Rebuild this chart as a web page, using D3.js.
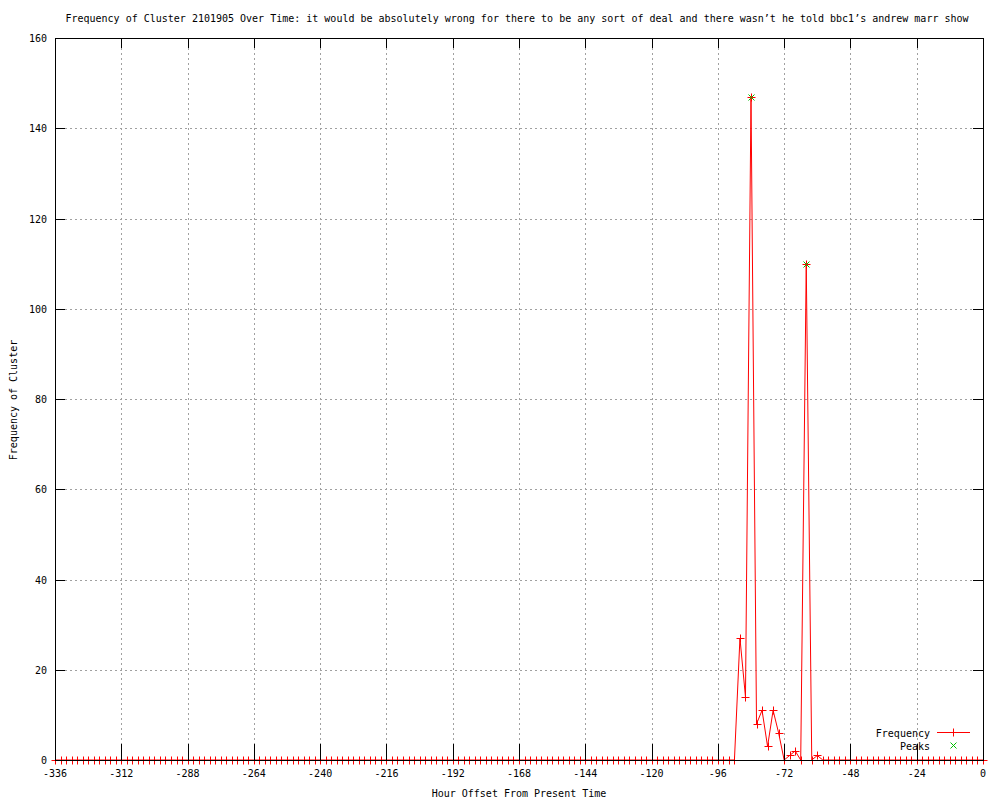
<!DOCTYPE html>
<html>
<head>
<meta charset="utf-8">
<script src="https://cdn.jsdelivr.net/npm/d3@7"></script>
<style>
  body { margin: 0; background: #fff; }
  text { font-family: "DejaVu Sans Mono", monospace; font-size: 10px; fill: #000; }
</style>
</head>
<body>
<div id="chart"></div>
<script>
// chart values
const titleText = "Frequency of Cluster 2101905 Over Time: it would be absolutely wrong for there to be any sort of deal and there wasn\u2019t he told bbc1\u2019s andrew marr show";
const xTicks = [-336, -312, -288, -264, -240, -216, -192, -168, -144, -120, -96, -72, -48, -24, 0];
const yTicks = [0, 20, 40, 60, 80, 100, 120, 140, 160];

// one sample every 2 hours, -336 .. 0
const hours = d3.range(-336, 1, 2);
const frequency = [
  0, 0, 0, 0, 0, 0, 0, 0, 0, 0, 0, 0, 0, 0, 0, 0, 0, 0, 0, 0,
  0, 0, 0, 0, 0, 0, 0, 0, 0, 0, 0, 0, 0, 0, 0, 0, 0, 0, 0, 0,
  0, 0, 0, 0, 0, 0, 0, 0, 0, 0, 0, 0, 0, 0, 0, 0, 0, 0, 0, 0,
  0, 0, 0, 0, 0, 0, 0, 0, 0, 0, 0, 0, 0, 0, 0, 0, 0, 0, 0, 0,
  0, 0, 0, 0, 0, 0, 0, 0, 0, 0, 0, 0, 0, 0, 0, 0, 0, 0, 0, 0,
  0, 0, 0, 0, 0, 0, 0, 0, 0, 0, 0, 0, 0, 0, 0, 0, 0, 0, 0, 0,
  0, 0, 0, 0,
  27, 14, 147, 8, 11, 3, 11, 6, 0, 1, 2, 0, 110, 0, 1,
  0, 0, 0, 0, 0, 0, 0, 0, 0, 0, 0, 0, 0, 0, 0, 0, 0, 0, 0, 0,
  0, 0, 0, 0, 0, 0, 0, 0, 0, 0
];
const peakHours = [-84, -64];
const peakValues = [147, 110];

const width = 1000, height = 800;
const mLeft = 55, mRight = 983, mTop = 38, mBottom = 760;

let svg = d3.select("#chart")
  .append("svg")
  .attr("width", width)
  .attr("height", height);

let x = d3.scaleLinear().domain([-336, 0]).range([mLeft, mRight]);
let y = d3.scaleLinear().domain([0, 160]).range([mBottom, mTop]);

// grid
let grid = svg.append("g").attr("class", "grid")
  .style("stroke", "#a0a0a0")
  .style("stroke-dasharray", "2,3")
  .attr("shape-rendering", "crispEdges");

grid.selectAll("line.gx")
  .data(xTicks.slice(1, -1))
  .enter()
  .append("line")
  .attr("x1", d => Math.round(x(d)) + 0.5)
  .attr("x2", d => Math.round(x(d)) + 0.5)
  .attr("y1", mTop)
  .attr("y2", mBottom);

grid.selectAll("line.gy")
  .data(yTicks.slice(1, -1))
  .enter()
  .append("line")
  .attr("x1", mLeft)
  .attr("x2", mRight)
  .attr("y1", d => Math.round(y(d)) + 0.5)
  .attr("y2", d => Math.round(y(d)) + 0.5);

// frequency line + "+" points
let pts = hours.map((h, i) => [h, frequency[i]]);

svg.append("path")
  .datum(pts)
  .attr("fill", "none")
  .attr("stroke", "#ff0000")
  .attr("stroke-width", 1)
  .attr("d", d3.line().x(d => x(d[0])).y(d => y(d[1])));

svg.append("g")
  .selectAll("path")
  .data(pts)
  .enter()
  .append("path")
  .attr("transform", d => `translate(${Math.round(x(d[0])) + 0.5},${Math.round(y(d[1])) + 0.5})`)
  .attr("d", "M-4,0H4M0,-4V4")
  .attr("stroke", "#ff0000")
  .attr("fill", "none");

// peaks
svg.append("g")
  .selectAll("path")
  .data(peakHours)
  .enter()
  .append("path")
  .attr("transform", (d, i) => `translate(${Math.round(x(d)) + 0.5},${Math.round(y(peakValues[i])) + 0.5})`)
  .attr("d", "M-3,-3L3,3M-3,3L3,-3")
  .attr("stroke", "#00c000")
  .attr("fill", "none");

// border and tics
let axes = svg.append("g")
  .attr("stroke", "#000")
  .attr("shape-rendering", "crispEdges");

axes.append("rect")
  .attr("x", mLeft + 0.5)
  .attr("y", mTop + 0.5)
  .attr("width", mRight - mLeft)
  .attr("height", mBottom - mTop)
  .attr("fill", "none");

axes.selectAll("line.xb")
  .data(xTicks)
  .enter()
  .append("line")
  .attr("x1", d => Math.round(x(d)) + 0.5)
  .attr("x2", d => Math.round(x(d)) + 0.5)
  .attr("y1", mBottom)
  .attr("y2", mBottom - 16);

axes.selectAll("line.xt")
  .data(xTicks)
  .enter()
  .append("line")
  .attr("x1", d => Math.round(x(d)) + 0.5)
  .attr("x2", d => Math.round(x(d)) + 0.5)
  .attr("y1", mTop)
  .attr("y2", mTop + 10);

axes.selectAll("line.yl")
  .data(yTicks)
  .enter()
  .append("line")
  .attr("x1", mLeft)
  .attr("x2", mLeft + 10)
  .attr("y1", d => Math.round(y(d)) + 0.5)
  .attr("y2", d => Math.round(y(d)) + 0.5);

axes.selectAll("line.yr")
  .data(yTicks)
  .enter()
  .append("line")
  .attr("x1", mRight)
  .attr("x2", mRight - 10)
  .attr("y1", d => Math.round(y(d)) + 0.5)
  .attr("y2", d => Math.round(y(d)) + 0.5);

// tick labels
svg.append("g")
  .selectAll("text")
  .data(xTicks)
  .enter()
  .append("text")
  .attr("x", d => x(d))
  .attr("y", mBottom + 17)
  .style("text-anchor", "middle")
  .text(d => d);

svg.append("g")
  .selectAll("text")
  .data(yTicks)
  .enter()
  .append("text")
  .attr("x", mLeft - 8)
  .attr("y", d => y(d) + 4)
  .style("text-anchor", "end")
  .text(d => d);

// titles
svg.append("text")
  .attr("x", 517)
  .attr("y", 22)
  .style("text-anchor", "middle")
  .text(titleText);

svg.append("text")
  .attr("x", 519)
  .attr("y", 797)
  .style("text-anchor", "middle")
  .text("Hour Offset From Present Time");

svg.append("text")
  .attr("transform", "translate(17,400) rotate(-90)")
  .style("text-anchor", "middle")
  .text("Frequency of Cluster");

// key
let key = svg.append("g");
key.append("text").attr("x", 930).attr("y", 737).style("text-anchor", "end").text("Frequency");
key.append("text").attr("x", 930).attr("y", 750).style("text-anchor", "end").text("Peaks");
key.append("line")
  .attr("x1", 937).attr("x2", 970).attr("y1", 732.5).attr("y2", 732.5)
  .attr("stroke", "#ff0000");
key.append("path")
  .attr("transform", "translate(953.5,732.5)")
  .attr("d", "M-4,0H4M0,-4V4")
  .attr("stroke", "#ff0000");
key.append("path")
  .attr("transform", "translate(953.5,745.5)")
  .attr("d", "M-3,-3L3,3M-3,3L3,-3")
  .attr("stroke", "#00c000");
</script>
</body>
</html>
